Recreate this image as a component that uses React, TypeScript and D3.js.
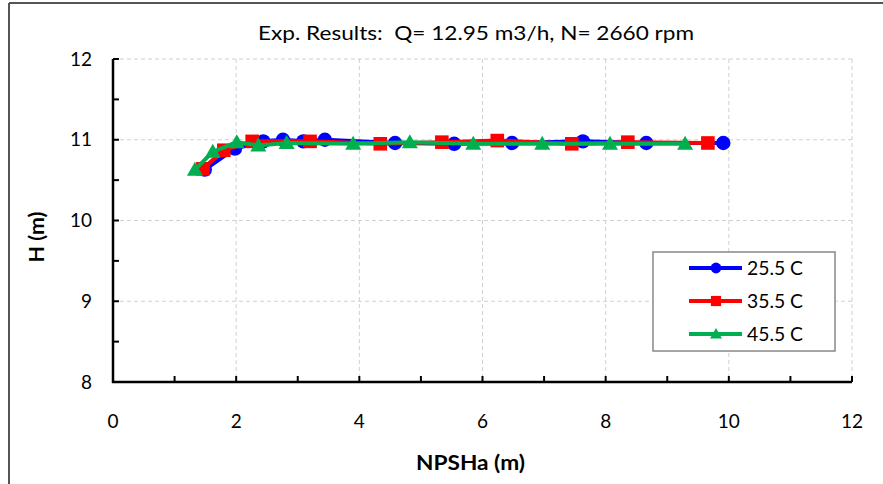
import React from "react";
import * as d3 from "d3";

const seriesNames = ["25.5 C", "35.5 C", "45.5 C"];
const seriesColors = ["#0000FF", "#FF0000", "#00B050"];
const seriesShapes = ["circle", "square", "triangle"];

const npsh25 = [1.49, 1.98, 2.44, 2.76, 3.09, 3.44, 4.58, 5.54, 6.48, 7.63, 8.66, 9.91];
const head25 = [10.63, 10.89, 10.98, 11.0, 10.98, 11.0, 10.96, 10.95, 10.96, 10.98, 10.96, 10.96];

const npsh35 = [1.46, 1.8, 2.26, 3.2, 4.34, 5.34, 6.24, 7.45, 8.36, 9.66];
const head35 = [10.64, 10.87, 10.98, 10.98, 10.95, 10.97, 10.99, 10.95, 10.97, 10.96];

const npsh45 = [1.33, 1.62, 2.01, 2.36, 2.82, 3.9, 4.82, 5.85, 6.97, 8.07, 9.29];
const head45 = [10.63, 10.85, 10.97, 10.93, 10.96, 10.95, 10.97, 10.95, 10.95, 10.95, 10.95];

const xTicks = [0, 2, 4, 6, 8, 10, 12];
const xMinorTicks = [1, 3, 5, 7, 9, 11];
const yTicks = [8, 9, 10, 11, 12];
const yMinorTicks = [8.5, 9.5, 10.5, 11.5];

const title = "Exp. Results:\u00A0 Q= 12.95 m3/h, N= 2660 rpm";
const xTitle = "NPSHa (m)";
const yTitle = "H (m)";

const FONT = "Lato, 'Open Sans', sans-serif";

function Marker({ shape, x, y, color, k = 1 }: { shape: string; x: number; y: number; color: string; k?: number }) {
  if (shape === "circle") return <circle cx={x} cy={y} r={7.2 * k} fill={color} />;
  if (shape === "square") {
    const h = 6.8 * k;
    return <rect x={x - h} y={y - h} width={2 * h} height={2 * h} fill={color} />;
  }
  const s = 8 * k;
  return (
    <path
      d={`M${x},${y - s}L${x + s},${y + s * 0.75}L${x - s},${y + s * 0.75}Z`}
      fill={color}
    />
  );
}

export default function App() {
  const W = 883;
  const H = 484;
  const left = 113;
  const right = 852;
  const top = 59;
  const bottom = 382;

  const x = d3.scaleLinear().domain([0, 12]).range([left, right]);
  const y = d3.scaleLinear().domain([8, 12]).range([bottom, top]);

  const data = [
    npsh25.map((v, i) => [v, head25[i]]),
    npsh35.map((v, i) => [v, head35[i]]),
    npsh45.map((v, i) => [v, head45[i]]),
  ];

  const line = d3
    .line<number[]>()
    .x((d) => x(d[0]))
    .y((d) => y(d[1]));

  const legX = 653;
  const legY = 252;
  const legW = 182;
  const legH = 99;

  return (
    <svg
      width={W}
      height={H}
      style={{ position: "absolute", left: 0, top: 0, background: "#fff" }}
      fontFamily={FONT}
    >
      <rect x={0} y={0} width={W} height={H} fill="#fff" />
      {/* outer frame */}
      <line x1={9} y1={3} x2={W} y2={3} stroke="#555" strokeWidth={2} />
      <line x1={9} y1={3} x2={9} y2={H} stroke="#555" strokeWidth={2} />

      {/* grid */}
      {xTicks.slice(1).map((t) => (
        <line
          key={"gx" + t}
          x1={x(t)}
          x2={x(t)}
          y1={top}
          y2={bottom}
          stroke="#d0d0d0"
          strokeWidth={1}
          strokeDasharray="4,3"
        />
      ))}
      {yTicks.slice(1).map((t) => (
        <line
          key={"gy" + t}
          x1={left}
          x2={right}
          y1={y(t)}
          y2={y(t)}
          stroke="#d0d0d0"
          strokeWidth={1}
          strokeDasharray="4,3"
        />
      ))}

      {/* axes */}
      <line x1={left} x2={left} y1={top} y2={bottom + 1} stroke="#000" strokeWidth={2.5} />
      <line x1={left - 1} x2={right} y1={bottom} y2={bottom} stroke="#000" strokeWidth={2.5} />
      {[...yTicks, ...yMinorTicks].map((t) => (
        <line key={"yt" + t} x1={left} x2={left + 6} y1={y(t)} y2={y(t)} stroke="#000" strokeWidth={2} />
      ))}
      {[...xTicks, ...xMinorTicks].map((t) => (
        <line key={"xt" + t} x1={x(t)} x2={x(t)} y1={bottom} y2={bottom - 6} stroke="#000" strokeWidth={2} />
      ))}

      {/* tick labels */}
      {yTicks.map((t) => (
        <text key={"yl" + t} x={92} y={y(t)} dy="0.35em" textAnchor="end" fontSize={19} fill="#000">
          {t}
        </text>
      ))}
      {xTicks.map((t) => (
        <text key={"xl" + t} x={x(t)} y={421} dy="0.35em" textAnchor="middle" fontSize={19} fill="#000">
          {t}
        </text>
      ))}

      {/* titles */}
      <text
        x={476}
        y={33}
        dy="0.35em"
        textAnchor="middle"
        fontSize={19}
        fill="#000"
        textLength={436}
        lengthAdjust="spacingAndGlyphs"
      >
        {title}
      </text>
      <text
        x={470.5}
        y={463}
        dy="0.35em"
        textAnchor="middle"
        fontSize={20}
        fontWeight="bold"
        fill="#000"
        textLength={109}
        lengthAdjust="spacingAndGlyphs"
      >
        {xTitle}
      </text>
      <text
        transform={`translate(37,237) rotate(-90)`}
        dy="0.35em"
        textAnchor="middle"
        fontSize={20}
        fontWeight="bold"
        fill="#000"
        textLength={51}
        lengthAdjust="spacingAndGlyphs"
      >
        {yTitle}
      </text>

      {/* series */}
      {data.map((pts, si) => (
        <g key={"s" + si}>
          <path d={line(pts) || ""} fill="none" stroke={seriesColors[si]} strokeWidth={4} strokeLinejoin="round" />
          {pts.map((p, i) => (
            <Marker key={i} shape={seriesShapes[si]} x={x(p[0])} y={y(p[1])} color={seriesColors[si]} />
          ))}
        </g>
      ))}

      {/* legend */}
      <rect x={legX} y={legY} width={legW} height={legH} fill="#fff" stroke="#888" strokeWidth={1.5} />
      {seriesNames.map((n, i) => {
        const ly = legY + 16 + i * 33;
        return (
          <g key={"l" + i}>
            <line x1={689} x2={742} y1={ly} y2={ly} stroke={seriesColors[i]} strokeWidth={4} />
            <Marker shape={seriesShapes[i]} x={716} y={ly} color={seriesColors[i]} k={0.75} />
            <text
              x={747}
              y={ly}
              dy="0.35em"
              fontSize={19}
              fill="#000"
              textLength={56}
              lengthAdjust="spacingAndGlyphs"
            >
              {n}
            </text>
          </g>
        );
      })}
    </svg>
  );
}
